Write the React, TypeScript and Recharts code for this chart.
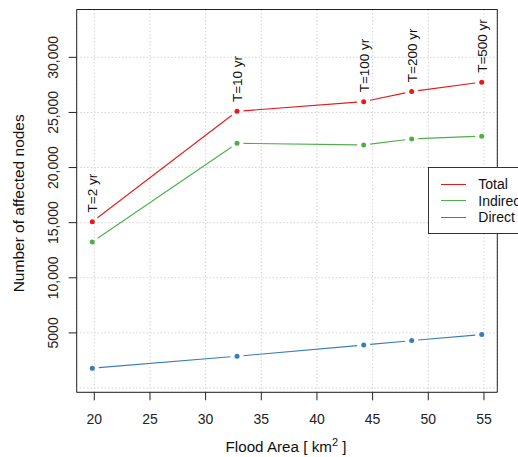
import React from "react";
import {
  LineChart,
  Line,
  XAxis,
  YAxis,
  CartesianGrid,
  ReferenceLine,
  ReferenceArea,
  LabelList,
  Legend,
} from "recharts";

const floodArea = [19.82, 32.82, 44.2, 48.51, 54.8];
const totalNodes = [15090, 25100, 25980, 26900, 27750];
const indirectNodes = [13250, 22200, 22050, 22600, 22850];
const directNodes = [1800, 2880, 3900, 4300, 4850];
const returnLabels = ["T=2 yr", "T=10 yr", "T=100 yr", "T=200 yr", "T=500 yr"];

const xTicks = [20, 25, 30, 35, 40, 45, 50, 55];
const yTicks = [5000, 10000, 15000, 20000, 25000, 30000];
const yTickLabels = ["5000", "10,000", "15,000", "20,000", "25,000", "30,000"];

const seriesNames = ["Total", "Indirect", "Direct"];
const seriesKeys = ["total", "indirect", "direct"];
const seriesColors = ["#E41A1C", "#4DAF4A", "#377EB8"];

const X_DOMAIN: [number, number] = [18.42, 56.2];
const Y_DOMAIN: [number, number] = [-390, 34340];

const FONT = "'Liberation Sans', Arial, sans-serif";

const data = floodArea.map((x, i) => ({
  x,
  total: totalNodes[i],
  indirect: indirectNodes[i],
  direct: directNodes[i],
  label: returnLabels[i],
}));

const makeDot = (color: string) => (props: any) => {
  const { cx, cy, index, points } = props;
  const gap = 6.5;
  let seg = null;
  if (points && index < points.length - 1) {
    const p = points[index + 1];
    const dx = p.x - cx;
    const dy = p.y - cy;
    const len = Math.hypot(dx, dy);
    if (len > 2 * gap) {
      seg = (
        <line
          x1={cx + (dx / len) * gap}
          y1={cy + (dy / len) * gap}
          x2={p.x - (dx / len) * gap}
          y2={p.y - (dy / len) * gap}
          stroke={color}
          strokeWidth={1.1}
        />
      );
    }
  }
  return (
    <g key={`d-${index}`}>
      {seg}
      <circle cx={cx} cy={cy} r={2.5} fill={color} stroke="none" />
    </g>
  );
};

const XTick = (props: any) => {
  const { x, y, payload } = props;
  return (
    <text x={x} y={y + 24} textAnchor="middle" fontSize={14} fontFamily={FONT} fill="#222">
      {payload.value}
    </text>
  );
};

const YTick = (props: any) => {
  const { x, y, payload } = props;
  const idx = yTicks.indexOf(payload.value);
  const bx = x - 10.4;
  return (
    <text
      x={bx}
      y={y}
      transform={`rotate(-90, ${bx}, ${y})`}
      textAnchor="middle"
      fontSize={14}
      fontFamily={FONT}
      fill="#222"
    >
      {idx >= 0 ? yTickLabels[idx] : ""}
    </text>
  );
};

const XLabel = (props: any) => {
  const vb = props.viewBox || {};
  const cx = vb.x + vb.width / 2 - 1;
  const by = vb.y + 60;
  return (
    <text x={cx} y={by} textAnchor="middle" fontSize={15.2} fontFamily={FONT} fill="#111">
      <tspan>Flood Area [ km</tspan>
      <tspan dy={-6.5} fontSize={11}>2</tspan>
      <tspan dy={6.5}> ]</tspan>
    </text>
  );
};

const YLabel = (props: any) => {
  const vb = props.viewBox || {};
  const bx = 24.5;
  const cy = vb.y + vb.height / 2 + 2.4;
  return (
    <text
      x={bx}
      y={cy}
      transform={`rotate(-90, ${bx}, ${cy})`}
      textAnchor="middle"
      fontSize={15.5}
      fontFamily={FONT}
      fill="#111"
    >
      Number of affected nodes
    </text>
  );
};

const PointLabel = (props: any) => {
  const { x, y, value } = props;
  const bx = x + 5;
  const by = y - 9.3;
  return (
    <text
      x={bx}
      y={by}
      transform={`rotate(-90, ${bx}, ${by})`}
      textAnchor="start"
      fontSize={13.5}
      fontFamily={FONT}
      fill="#111"
    >
      {value}
    </text>
  );
};

const LegendBox = () => (
  <div
    style={{
      position: "relative",
      width: 89.7,
      height: 67.6,
      background: "#fff",
      border: "1px solid #333",
      borderRight: "none",
      boxSizing: "border-box",
      overflow: "hidden",
      fontFamily: FONT,
      fontSize: 14,
      color: "#111",
    }}
  >
    {seriesNames.map((name, i) => (
      <div
        key={name}
        style={{
          position: "absolute",
          left: 0,
          top: 16.6 + i * 16.4 - 9,
          height: 18,
          width: 120,
          whiteSpace: "nowrap",
        }}
      >
        <div
          style={{
            position: "absolute",
            left: 11.7,
            top: 8.5,
            width: 24.7,
            height: 0,
            borderTop: `1.2px solid ${seriesColors[i]}`,
          }}
        />
        <span style={{ position: "absolute", left: 49, top: 0, lineHeight: "18px" }}>{name}</span>
      </div>
    ))}
  </div>
);

export default function App() {
  return (
    <div style={{ position: "absolute", left: 0, top: 0, width: 518, height: 457, overflow: "hidden" }}>
      <LineChart
        width={518}
        height={457}
        data={data}
        margin={{ top: 9.5, right: 20.7, bottom: 24.7, left: 16.7 }}
      >
        <CartesianGrid stroke="#d3d3d3" strokeDasharray="1.5 2" />
        <ReferenceLine y={0} stroke="#d3d3d3" strokeDasharray="1.5 2" />
        <ReferenceArea
          x1={X_DOMAIN[0]}
          x2={X_DOMAIN[1]}
          y1={Y_DOMAIN[0]}
          y2={Y_DOMAIN[1]}
          fill="none"
          stroke="#222"
          strokeWidth={1}
          fillOpacity={0}
        />
        <XAxis
          dataKey="x"
          type="number"
          domain={X_DOMAIN}
          ticks={xTicks}
          allowDataOverflow
          height={40}
          axisLine={false}
          tickLine={{ stroke: "#222" }}
          tickSize={8}
          tickMargin={0}
          tick={<XTick />}
          interval={0}
          label={<XLabel />}
        />
        <YAxis
          type="number"
          domain={Y_DOMAIN}
          ticks={yTicks}
          allowDataOverflow
          width={60}
          axisLine={false}
          tickLine={{ stroke: "#222" }}
          tickSize={8}
          tickMargin={0}
          tick={<YTick />}
          interval={0}
          label={<YLabel />}
        />
        <Legend
          layout="vertical"
          align="center"
          verticalAlign="middle"
          content={<LegendBox />}
          wrapperStyle={{ left: 428.3, top: 166.7, width: 89.7, height: 68 }}
        />
        {seriesKeys.map((k, i) => (
          <Line
            key={k}
            dataKey={k}
            name={seriesNames[i]}
            stroke={seriesColors[i]}
            strokeOpacity={0}
            dot={makeDot(seriesColors[i])}
            activeDot={false}
            isAnimationActive={false}
          >
            {k === "total" ? <LabelList dataKey="label" content={<PointLabel />} /> : null}
          </Line>
        ))}
      </LineChart>
    </div>
  );
}
